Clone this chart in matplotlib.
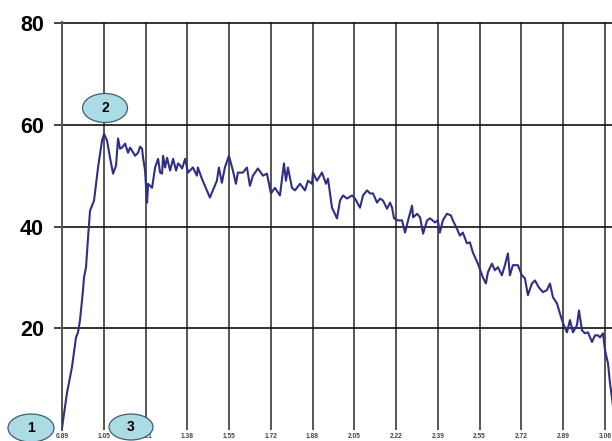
import matplotlib
matplotlib.use("Agg")
import numpy as np
from matplotlib import pyplot as plt
from matplotlib.patches import Ellipse

# displacement / force trace
t = [0.890, 0.910, 0.930, 0.946, 0.954, 0.962, 0.974, 0.978, 0.986, 0.994,
     1.002, 1.018, 1.034, 1.050, 1.058, 1.070, 1.082, 1.094, 1.106, 1.114,
     1.122, 1.130, 1.142, 1.154, 1.162, 1.170, 1.182, 1.194, 1.202, 1.210,
     1.214, 1.222, 1.226, 1.230, 1.234, 1.250, 1.262, 1.274, 1.282, 1.290,
     1.294, 1.302, 1.310, 1.322, 1.334, 1.346, 1.354, 1.362, 1.370, 1.382,
     1.394, 1.413, 1.429, 1.433, 1.449, 1.469, 1.481, 1.493, 1.509, 1.517,
     1.529, 1.541, 1.557, 1.573, 1.585, 1.593, 1.613, 1.629, 1.641, 1.653,
     1.673, 1.693, 1.709, 1.725, 1.741, 1.761, 1.777, 1.785, 1.793, 1.809,
     1.821, 1.841, 1.861, 1.873, 1.889, 1.893, 1.909, 1.929, 1.945, 1.953,
     1.969, 1.989, 2.001, 2.013, 2.029, 2.049, 2.061, 2.081, 2.093, 2.109,
     2.121, 2.133, 2.149, 2.161, 2.173, 2.189, 2.201, 2.209, 2.217, 2.233,
     2.249, 2.261, 2.273, 2.289, 2.293, 2.309, 2.321, 2.333, 2.349, 2.361,
     2.381, 2.392, 2.400, 2.412, 2.428, 2.444, 2.452, 2.468, 2.480, 2.492,
     2.508, 2.520, 2.532, 2.552, 2.572, 2.584, 2.592, 2.608, 2.620, 2.632,
     2.648, 2.660, 2.672, 2.680, 2.692, 2.712, 2.728, 2.740, 2.752, 2.768,
     2.780, 2.796, 2.812, 2.828, 2.840, 2.852, 2.868, 2.880, 2.892, 2.908,
     2.920, 2.932, 2.948, 2.956, 2.968, 2.980, 2.992, 3.008, 3.020, 3.032,
     3.040, 3.052, 3.060, 3.072, 3.080, 3.088, 3.096]
val = [0.4, 7.3, 12.4, 18.2, 19.2, 21.6, 27.5, 30.0, 32.0, 37.8,
       43.1, 45.1, 51.6, 56.9, 58.2, 56.9, 53.5, 50.4, 52.0, 57.3,
       55.3, 55.5, 56.3, 54.5, 55.5, 54.9, 53.9, 54.5, 55.7, 55.3,
       53.5, 51.0, 47.6, 44.7, 48.4, 47.6, 51.6, 53.3, 50.6, 50.4,
       53.9, 51.6, 53.5, 51.0, 53.3, 51.0, 52.4, 52.0, 51.4, 53.3,
       50.6, 51.6, 50.0, 51.6, 49.4, 47.1, 45.7, 47.1, 49.0, 51.6,
       48.6, 51.6, 53.9, 51.0, 48.4, 50.6, 50.6, 51.6, 48.0, 50.0,
       51.4, 50.0, 50.4, 46.5, 47.6, 46.1, 52.4, 49.0, 51.6, 47.6,
       47.1, 48.4, 47.1, 49.0, 48.4, 50.6, 49.0, 50.6, 48.4, 49.4,
       43.7, 41.6, 45.1, 46.1, 45.5, 46.1, 45.5, 43.7, 46.1, 47.1,
       46.5, 46.5, 44.7, 45.5, 45.1, 43.5, 44.7, 43.7, 41.6, 41.2,
       41.2, 38.8, 41.2, 44.1, 41.8, 42.5, 41.8, 38.6, 41.2, 41.6,
       40.8, 41.2, 38.8, 41.2, 42.5, 42.2, 41.2, 39.6, 38.2, 38.8,
       36.7, 36.9, 34.9, 32.7, 30.0, 28.8, 31.0, 32.7, 31.4, 32.0,
       30.4, 32.4, 34.7, 30.4, 32.4, 32.4, 30.4, 29.8, 26.5, 28.8,
       29.4, 28.0, 27.1, 27.5, 28.8, 26.1, 24.9, 22.9, 21.0, 19.2,
       21.6, 19.2, 20.6, 23.5, 19.6, 19.0, 19.2, 17.3, 18.6, 18.6,
       18.2, 19.0, 15.7, 13.1, 9.2, 6.3, 3.0]

x_labels = ["0.89", "1.05", "1.21", "1.38", "1.55", "1.72", "1.88",
            "2.05", "2.22", "2.39", "2.55", "2.72", "2.89", "3.06"]
y_ticks = [20, 40, 60, 80]

# numbered markers: (label, centre x px, centre y px, width px, height px)
markers = [("1", 31, 428, 46, 28), ("2", 105, 108, 45, 29), ("3", 131, 427, 44, 26)]

W, H = 612, 441
fig = plt.figure(figsize=(W / 100, H / 100), dpi=100)
fig.patch.set_facecolor("white")
ax = fig.add_axes([62 / W, 11 / H, 1 - 62 / W, (430 - 22) / H])

ax.plot(t, val, color="#2f2f86", lw=1.5, zorder=3)

ax.set_xlim(0.89, 3.088)
ax.set_ylim(0, 80.2)
xt = np.linspace(0.89, 3.06, len(x_labels))
ax.set_xticks(xt)
ax.set_xticklabels(x_labels)
ax.set_yticks(y_ticks)
ax.set_yticklabels([str(v) for v in y_ticks])

for s in ["top", "right", "bottom"]:
    ax.spines[s].set_visible(False)
ax.spines["left"].set_color("#555555")
ax.spines["left"].set_linewidth(1.4)

ax.xaxis.grid(True, color="#555555", lw=1.4)
ax.yaxis.grid(True, color="#111111", lw=1.2)
ax.set_axisbelow(True)

ax.tick_params(axis="y", length=6, width=1.1, color="#111111", pad=7,
               labelsize=15.5, direction="out")
ax.tick_params(axis="x", length=0, pad=2, labelsize=4.8, labelcolor="#444444")
for lab in ax.get_yticklabels():
    lab.set_fontweight("bold")
    lab.set_family("Liberation Sans")
for lab in ax.get_xticklabels():
    lab.set_fontweight("bold")
    lab.set_family("Liberation Sans")

for txt, cx, cy, w, h in markers:
    e = Ellipse((cx / W, 1 - cy / H), w / W, h / H, transform=fig.transFigure,
                facecolor="#abdce3", edgecolor="#3d5f70", lw=0.9, zorder=5)
    fig.add_artist(e)
    fig.text(cx / W, 1 - cy / H, txt, ha="center", va="center", fontsize=10,
             fontweight="bold", family="Liberation Sans", zorder=6)

fig.savefig("out.png", dpi=100)
